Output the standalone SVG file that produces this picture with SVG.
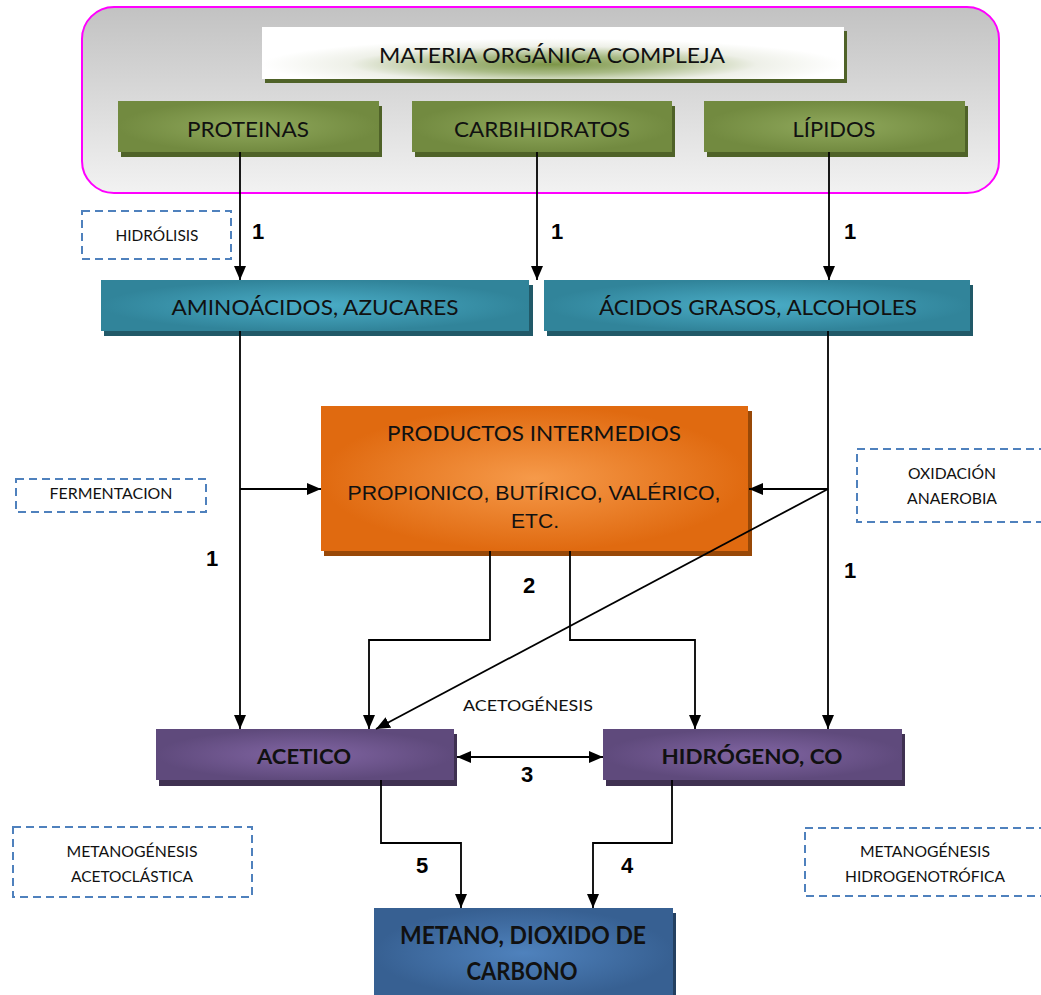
<svg xmlns="http://www.w3.org/2000/svg" width="1041" height="995" viewBox="0 0 1041 995">
<defs>
<linearGradient id="gOuter" x1="0" y1="0" x2="0" y2="1"><stop offset="0" stop-color="#c2c2c2"/><stop offset="1" stop-color="#f2f2f2"/></linearGradient>
<radialGradient id="gTitle" cx="0.5" cy="0.72" r="0.5"><stop offset="0" stop-color="#7d9648"/><stop offset="0.35" stop-color="#a9bb86"/><stop offset="0.7" stop-color="#eef0e8"/><stop offset="1" stop-color="#ffffff"/></radialGradient>
<radialGradient id="gGreen" cx="0.5" cy="0.5" r="0.5"><stop offset="0" stop-color="#90a95c"/><stop offset="1" stop-color="#728a40"/></radialGradient>
<radialGradient id="gTeal" cx="0.5" cy="0.5" r="0.5"><stop offset="0" stop-color="#4aadc7"/><stop offset="1" stop-color="#31849a"/></radialGradient>
<radialGradient id="gOrange" cx="0.5" cy="0.5" r="0.5"><stop offset="0" stop-color="#f69a4a"/><stop offset="1" stop-color="#e06a10"/></radialGradient>
<radialGradient id="gPurple" cx="0.5" cy="0.5" r="0.5"><stop offset="0" stop-color="#8165a3"/><stop offset="1" stop-color="#5f4a7c"/></radialGradient>
<radialGradient id="gBlue" cx="0.5" cy="0.5" r="0.5"><stop offset="0" stop-color="#4f82bd"/><stop offset="1" stop-color="#376092"/></radialGradient>
<marker id="arr" markerUnits="userSpaceOnUse" markerWidth="14" markerHeight="12" refX="14" refY="6" orient="auto-start-reverse"><path d="M0,0 L14,6 L0,12 z" fill="#000"/></marker>
<style>
.t{font-family:Lato,"Open Sans",sans-serif;fill:#111;text-anchor:middle}
.a{font-family:"Liberation Sans",Arial,sans-serif;fill:#111;text-anchor:middle}
.n{font-family:"Liberation Sans",Arial,sans-serif;font-weight:bold;font-size:22px;fill:#000;text-anchor:middle}
.b{font-weight:bold}
.dash{fill:#fff;stroke:#4f81bd;stroke-width:2;stroke-dasharray:8 5}
.c{fill:none;stroke:#000;stroke-width:1.8}
.sg{fill:#4f6228}.st{fill:#215968}.so{fill:#984807}.sp{fill:#3f3151}.sb{fill:#244061}
</style>
</defs>
<rect x="0" y="0" width="1041" height="995" fill="#fff"/>
<g id="outer"><rect x="82" y="7" width="917" height="186" rx="32" fill="url(#gOuter)" stroke="#ff00ff" stroke-width="2"/></g>
<g id="materia"><rect class="sg" x="265" y="31" width="582" height="52"/><rect x="262" y="27" width="582" height="52" fill="url(#gTitle)"/><text class="t" x="552" y="63" font-size="22" textLength="346" lengthAdjust="spacingAndGlyphs">MATERIA ORGÁNICA COMPLEJA</text></g>
<g id="proteinas"><rect class="sg" x="121" y="106" width="261" height="51"/><rect x="118" y="101" width="261" height="51" fill="url(#gGreen)"/><text class="t" x="248" y="137" font-size="22" textLength="122" lengthAdjust="spacingAndGlyphs">PROTEINAS</text></g>
<g id="carbihidratos"><rect class="sg" x="415" y="106" width="260" height="51"/><rect x="412" y="101" width="260" height="51" fill="url(#gGreen)"/><text class="t" x="542" y="137" font-size="22" textLength="176" lengthAdjust="spacingAndGlyphs">CARBIHIDRATOS</text></g>
<g id="lipidos"><rect class="sg" x="707" y="106" width="261" height="51"/><rect x="704" y="101" width="261" height="51" fill="url(#gGreen)"/><text class="t" x="834" y="137" font-size="22" textLength="83" lengthAdjust="spacingAndGlyphs">LÍPIDOS</text></g>
<g id="hidrolisis"><rect class="dash" x="82" y="211" width="149" height="48"/><text class="t" x="157" y="241" font-size="15" textLength="83" lengthAdjust="spacingAndGlyphs">HIDRÓLISIS</text></g>
<g id="aminoacidos"><rect class="st" x="104" y="285" width="429" height="51"/><rect x="101" y="280" width="428" height="51" fill="url(#gTeal)"/><text class="t" x="315" y="315" font-size="22" textLength="287" lengthAdjust="spacingAndGlyphs">AMINOÁCIDOS, AZUCARES</text></g>
<g id="acidos"><rect class="st" x="547" y="285" width="426" height="51"/><rect x="544" y="280" width="426" height="51" fill="url(#gTeal)"/><text class="t" x="758" y="315" font-size="22" textLength="318" lengthAdjust="spacingAndGlyphs">ÁCIDOS GRASOS, ALCOHOLES</text></g>
<g id="productos"><rect class="so" x="324" y="411" width="428" height="145"/><rect x="321" y="406" width="427" height="145" fill="url(#gOrange)"/><text class="t" x="534" y="441" font-size="22" textLength="294" lengthAdjust="spacingAndGlyphs">PRODUCTOS INTERMEDIOS</text><text class="a" x="534" y="500" font-size="21" textLength="373" lengthAdjust="spacingAndGlyphs">PROPIONICO, BUTÍRICO, VALÉRICO,</text><text class="a" x="535" y="528" font-size="21" textLength="48" lengthAdjust="spacingAndGlyphs">ETC.</text></g>
<g id="fermentacion"><rect class="dash" x="16" y="479" width="190" height="33"/><text class="t" x="111" y="499" font-size="15" textLength="123" lengthAdjust="spacingAndGlyphs">FERMENTACION</text></g>
<g id="oxidacion"><rect class="dash" x="857" y="449" width="200" height="73"/><text class="t" x="952" y="479" font-size="15" textLength="88" lengthAdjust="spacingAndGlyphs">OXIDACIÓN</text><text class="t" x="952" y="504" font-size="15" textLength="90" lengthAdjust="spacingAndGlyphs">ANAEROBIA</text></g>
<g id="acetogenesis"><text class="t" x="528" y="711" font-size="16" textLength="130" lengthAdjust="spacingAndGlyphs">ACETOGÉNESIS</text></g>
<g id="acetico"><rect class="sp" x="159" y="734" width="298" height="52"/><rect x="156" y="729" width="298" height="51" fill="url(#gPurple)"/><text class="t b" x="304" y="764" font-size="21" textLength="94" lengthAdjust="spacingAndGlyphs">ACETICO</text></g>
<g id="hidrogeno"><rect class="sp" x="606" y="734" width="299" height="52"/><rect x="603" y="729" width="299" height="51" fill="url(#gPurple)"/><text class="t b" x="752" y="764" font-size="21" textLength="181" lengthAdjust="spacingAndGlyphs">HIDRÓGENO, CO</text></g>
<g id="acetoclastica"><rect class="dash" x="13" y="827" width="239" height="70"/><text class="t" x="132" y="857" font-size="15" textLength="131" lengthAdjust="spacingAndGlyphs">METANOGÉNESIS</text><text class="t" x="132" y="882" font-size="15" textLength="122" lengthAdjust="spacingAndGlyphs">ACETOCLÁSTICA</text></g>
<g id="hidrogenotrofica"><rect class="dash" x="805" y="828" width="250" height="68"/><text class="t" x="925" y="857" font-size="15" textLength="130" lengthAdjust="spacingAndGlyphs">METANOGÉNESIS</text><text class="t" x="925" y="882" font-size="15" textLength="160" lengthAdjust="spacingAndGlyphs">HIDROGENOTRÓFICA</text></g>
<g id="metano"><rect class="sb" x="377" y="913" width="299" height="90"/><rect x="374" y="908" width="299" height="90" fill="url(#gBlue)"/><text class="t b" x="523" y="944" font-size="24" textLength="246" lengthAdjust="spacingAndGlyphs">METANO, DIOXIDO DE</text><text class="t b" x="522" y="980" font-size="24" textLength="111" lengthAdjust="spacingAndGlyphs">CARBONO</text></g>
<g id="connectors">
<path class="c" d="M240,152 V280" marker-end="url(#arr)"/>
<path class="c" d="M537,152 V280" marker-end="url(#arr)"/>
<path class="c" d="M829,152 V280" marker-end="url(#arr)"/>
<path class="c" d="M240,331 V729" marker-end="url(#arr)"/>
<path class="c" d="M240,489 H321" marker-end="url(#arr)"/>
<path class="c" d="M828,331 V729" marker-end="url(#arr)"/>
<path class="c" d="M828,489 H749" marker-end="url(#arr)"/>
<path class="c" d="M828,489 L376,729" marker-end="url(#arr)"/>
<path class="c" d="M490,551 V640 H369 V729" marker-end="url(#arr)"/>
<path class="c" d="M570,551 V640 H695 V729" marker-end="url(#arr)"/>
<path class="c" d="M457,757 H603" marker-start="url(#arr)" marker-end="url(#arr)"/>
<path class="c" d="M381,780 V843 H461 V908" marker-end="url(#arr)"/>
<path class="c" d="M672,780 V843 H593 V908" marker-end="url(#arr)"/>
</g>
<g id="labels">
<text class="n" x="258" y="239">1</text>
<text class="n" x="557" y="239">1</text>
<text class="n" x="850" y="239">1</text>
<text class="n" x="212" y="566">1</text>
<text class="n" x="850" y="578">1</text>
<text class="n" x="529" y="593">2</text>
<text class="n" x="527" y="782">3</text>
<text class="n" x="627" y="873">4</text>
<text class="n" x="422" y="873">5</text>
</g>
</svg>
